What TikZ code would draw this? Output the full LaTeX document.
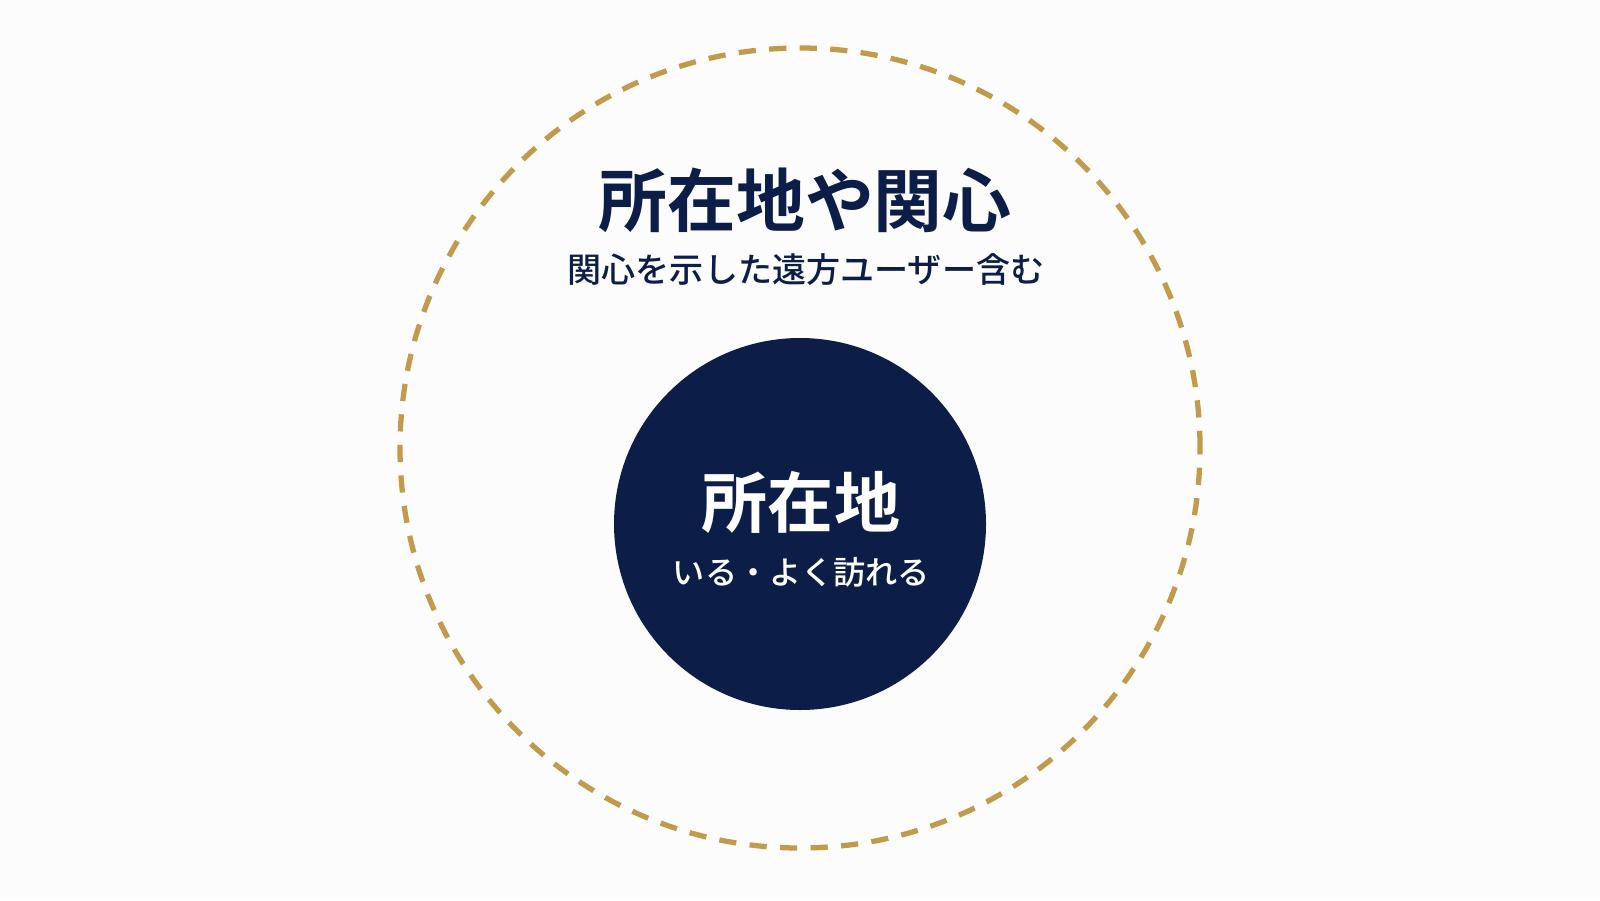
\documentclass[tikz,border=0pt]{standalone}
\usepackage{fontspec}
\usepackage{tikz}
\newfontfamily\jpfont{Noto Sans CJK JP}[BoldFont={Noto Sans CJK JP Bold}]
\newfontfamily\jpmedium{Noto Sans CJK JP Medium}
\definecolor{navy}{HTML}{0C1E47}
\definecolor{gold}{HTML}{C19A4C}
\definecolor{paper}{HTML}{FCFCFC}
\tikzstyle{ring} = [draw=gold, line width=1.5pt, dash pattern=on 4.9pt off 3.8pt]
\tikzstyle{core} = [fill=navy]
\tikzstyle{bigtext} = [font=\jpfont\bfseries\fontsize{19.6}{22}\selectfont]
\tikzstyle{smalltext} = [font=\jpmedium\fontsize{9.7}{11}\selectfont]

\begin{document}
\begin{tikzpicture}
    \fill[paper] (0,0) rectangle (16,9);
    \useasboundingbox (0,0) rectangle (16,9);

        \draw[ring] (8.00,4.52) circle (4.00);
        \fill[core] (8.00,3.76) circle (1.86);

        \node[bigtext,text=navy] (outertitle) at (8.05,7.00) {所在地や関心};
        \node[smalltext,text=navy] (outersub) at (8.06,6.30) {関心を示した遠方ユーザー含む};

        \node[bigtext,text=white,font=\jpfont\bfseries\fontsize{18.8}{22}\selectfont] (innertitle) at (8.01,3.98) {所在地};
        \node[smalltext,text=white,font=\jpmedium\fontsize{9.15}{11}\selectfont] (innersub) at (8.015,3.28) {いる・よく訪れる};

    \end{tikzpicture}
\end{document}
